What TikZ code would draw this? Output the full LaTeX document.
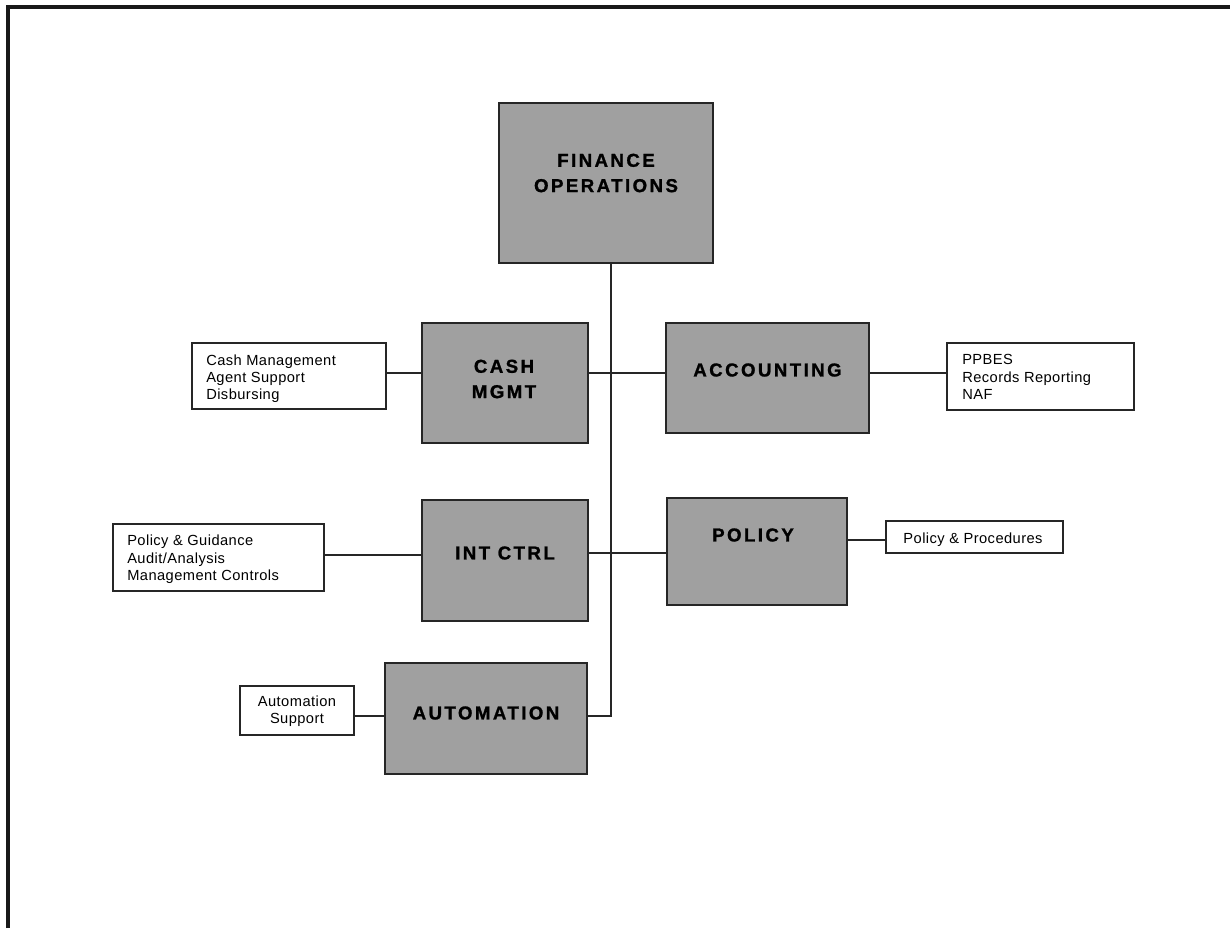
\documentclass[tikz,border=0pt]{standalone}
\usepackage{fontspec}
\setmainfont{Liberation Sans}
\newfontfamily\headfont[LetterSpace=13,FakeBold=1.2]{Liberation Sans Bold}
\newfontfamily\listfont[LetterSpace=3]{Liberation Sans}
\definecolor{boxgray}{RGB}{160,160,160}
\begin{document}
\begin{tikzpicture}[x=0.75pt,y=-0.75pt,
  unitbox/.style={draw=black!85,line width=1.1pt,fill=boxgray,inner sep=0pt},
  listbox/.style={draw=black!85,line width=1.1pt,fill=white,inner sep=0pt},
  headtext/.style={font=\headfont\fontsize{14}{19}\selectfont,align=center,inner sep=0pt},
  listtext/.style={font=\listfont\fontsize{11}{13}\selectfont,inner sep=0pt},
  conn/.style={draw=black!85,line width=0.9pt}]
\useasboundingbox (0,0) rectangle (1230,928);
\fill[white] (0,0) rectangle (1230,928);
\draw[line width=2.4pt,black!90] (8,928) -- (8,7) -- (1230,7);

% main boxes
\node[unitbox,minimum width=214*0.75pt,minimum height=160*0.75pt] (fin) at (606,183) {};
\node[headtext] (fint) at (606,173) {FINANCE\\OPERATIONS};
\node[unitbox,minimum width=166*0.75pt,minimum height=120*0.75pt] (cash) at (505,383) {};
\node[headtext] (casht) at (504,379) {CASH\\MGMT};
\node[unitbox,minimum width=203*0.75pt,minimum height=110*0.75pt] (acct) at (767.5,378) {};
\node[headtext] (acctt) at (767.5,370) {ACCOUNTING};
\node[unitbox,minimum width=166*0.75pt,minimum height=121*0.75pt] (intc) at (505,560.5) {};
\node[headtext] (intct) at (505,553) {INT CTRL};
\node[unitbox,minimum width=180*0.75pt,minimum height=107*0.75pt] (pol) at (757,551.5) {};
\node[headtext] (polt) at (753,535) {POLICY};
\node[unitbox,minimum width=202*0.75pt,minimum height=111*0.75pt] (auto) at (486,718.5) {};
\node[headtext] (autot) at (486,713) {AUTOMATION};

% list boxes
\node[listbox,minimum width=194*0.75pt,minimum height=66*0.75pt] (cashl) at (289,376) {};
\node[listtext,anchor=base west] (cashl1) at (206,365) {Cash Management};
\node[listtext,anchor=base west] (cashl2) at (206,382) {Agent Support};
\node[listtext,anchor=base west] (cashl3) at (206,399) {Disbursing};

\node[listbox,minimum width=187*0.75pt,minimum height=67*0.75pt] (ppb) at (1040.5,376.5) {};
\node[listtext,anchor=base west] (ppb1) at (962,364) {PPBES};
\node[listtext,anchor=base west] (ppb2) at (962,382) {Records Reporting};
\node[listtext,anchor=base west] (ppb3) at (962,399) {NAF};

\node[listbox,minimum width=211*0.75pt,minimum height=67*0.75pt] (intl) at (218.5,557.5) {};
\node[listtext,anchor=base west] (intl1) at (127,545) {Policy \& Guidance};
\node[listtext,anchor=base west] (intl2) at (127,563) {Audit/Analysis};
\node[listtext,anchor=base west] (intl3) at (127,580) {Management Controls};

\node[listbox,minimum width=177*0.75pt,minimum height=32*0.75pt] (poll) at (974.5,537) {};
\node[listtext,anchor=base] (poll1) at (973,543) {Policy \& Procedures};

\node[listbox,minimum width=114*0.75pt,minimum height=49*0.75pt] (autol) at (297,710.5) {};
\node[listtext,align=center] (autol1) at (297,711) {Automation\\Support};

% junctions
\coordinate (j1) at (611,373);
\coordinate (j2) at (611,553);
\coordinate (j3) at (611,716);
\coordinate (k2) at (611,555);
\coordinate (k3) at (611,540);

% connectors
\draw[conn] (fin.south -| j1) -- (j3) -- (auto.east |- j3);
\draw[conn] (autol.east |- j3) -- (auto.west |- j3);
\draw[conn] (cash.east |- j1) -- (acct.west |- j1);
\draw[conn] (cashl.east |- j1) -- (cash.west |- j1);
\draw[conn] (acct.east |- j1) -- (ppb.west |- j1);
\draw[conn] (intc.east |- j2) -- (pol.west |- j2);
\draw[conn] (intl.east |- k2) -- (intc.west |- k2);
\draw[conn] (pol.east |- k3) -- (poll.west |- k3);
\end{tikzpicture}
\end{document}
